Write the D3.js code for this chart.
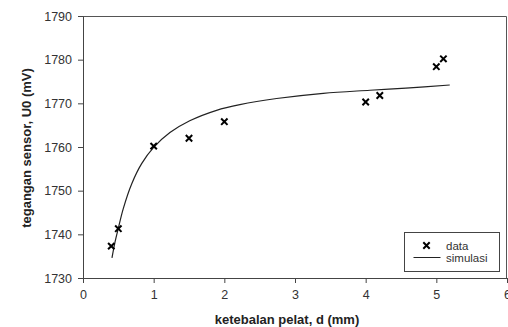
<!DOCTYPE html>
<html>
<head>
<meta charset="utf-8">
<script src="https://cdn.jsdelivr.net/npm/d3@7"></script>
<style>
  body { margin: 0; background: #fff; }
  svg text { font-family: "Liberation Sans", Arial, sans-serif; }
  .axis path, .axis line { stroke: #444; }
  .axis text { fill: #333; font-size: 12.5px; }
</style>
</head>
<body>
<div id="chart"></div>
<script>
// measured points
var dataD = [0.4, 0.5, 1.0, 1.5, 2.0, 4.0, 4.2, 5.0, 5.1];
var dataU = [1737.3, 1741.3, 1760.2, 1762.0, 1765.8, 1770.3, 1771.8, 1778.4, 1780.2];

// simulation curve
var simD = [0.41, 0.45, 0.5, 0.57, 0.69, 0.83, 1.0, 1.23, 1.51, 1.89, 2.22, 2.74, 3.4, 4.06, 4.57, 5.19];
var simU = [1734.6, 1738.0, 1741.4, 1745.9, 1751.6, 1756.2, 1759.9, 1763.3, 1766.0, 1768.4, 1769.7, 1771.1, 1772.3, 1773.0, 1773.5, 1774.2];

var xTicks = [0, 1, 2, 3, 4, 5, 6];
var yTicks = [1730, 1740, 1750, 1760, 1770, 1780, 1790];
var legendLabels = ["data", "simulasi"];

var W = 508, H = 327;
var margin = {top: 16, right: 1, bottom: 49, left: 83},
    width = W - margin.left - margin.right,
    height = H - margin.top - margin.bottom;

var svg = d3.select("#chart").append("svg")
    .attr("width", W)
    .attr("height", H);

var g = svg.append("g")
    .attr("transform", "translate(" + margin.left + "," + margin.top + ")");

var x = d3.scaleLinear().domain([0, 6]).range([0, width]);
var y = d3.scaleLinear().domain([1730, 1790]).range([height, 0]);

// frame (top + right)
g.append("path")
    .attr("d", "M0,0.5H" + (width - 0.5) + "V" + height)
    .attr("fill", "none")
    .attr("stroke", "#555");

g.append("g")
    .attr("class", "axis")
    .attr("transform", "translate(0," + height + ")")
    .call(d3.axisBottom(x).tickValues(xTicks).tickFormat(d3.format("d"))
        .tickSize(5).tickPadding(7).tickSizeOuter(0));

g.append("g")
    .attr("class", "axis")
    .call(d3.axisLeft(y).tickValues(yTicks).tickFormat(d3.format("d"))
        .tickSize(5).tickPadding(6).tickSizeOuter(0));

// simulation line
var line = d3.line()
    .x(function (d, i) { return x(simD[i]); })
    .y(function (d, i) { return y(simU[i]); })
    .curve(d3.curveCatmullRom.alpha(0.5));

g.append("path")
    .datum(simU)
    .attr("d", line)
    .attr("fill", "none")
    .attr("stroke", "#222")
    .attr("stroke-width", 1.2);

// data crosses
var s = 3.2;
function cross(px, py) {
    return "M" + (px - s) + "," + (py - s) + "L" + (px + s) + "," + (py + s) +
           "M" + (px - s) + "," + (py + s) + "L" + (px + s) + "," + (py - s);
}

g.selectAll(".pt")
    .data(dataU)
    .enter().append("path")
    .attr("class", "pt")
    .attr("d", function (d, i) { return cross(x(dataD[i]), y(d)); })
    .attr("stroke", "#000")
    .attr("stroke-width", 2);

// axis titles
svg.append("text")
    .attr("x", margin.left + x(3) - 8)
    .attr("y", 324)
    .attr("text-anchor", "middle")
    .attr("font-size", "13px")
    .attr("font-weight", "bold")
    .attr("fill", "#222")
    .text("ketebalan pelat, d (mm)");

svg.append("text")
    .attr("transform", "translate(31," + (margin.top + height / 2 + 1) + ") rotate(-90)")
    .attr("text-anchor", "middle")
    .attr("font-size", "13px")
    .attr("font-weight", "bold")
    .attr("fill", "#222")
    .text("tegangan sensor, U0 (mV)");

// legend
var lg = svg.append("g").attr("transform", "translate(404.5,232.5)");
lg.append("rect")
    .attr("width", 95)
    .attr("height", 39)
    .attr("fill", "#fff")
    .attr("stroke", "#444");

lg.append("path")
    .attr("d", cross(22, 13))
    .attr("stroke", "#000")
    .attr("stroke-width", 2);

lg.append("line")
    .attr("x1", 9).attr("x2", 36)
    .attr("y1", 25).attr("y2", 25)
    .attr("stroke", "#222");

lg.selectAll(".lt")
    .data(legendLabels)
    .enter().append("text")
    .attr("x", 41.5)
    .attr("y", function (d, i) { return 13 + i * 12.5; })
    .attr("dy", "0.35em")
    .attr("font-size", "11.5px")
    .attr("fill", "#333")
    .text(function (d) { return d; });
</script>
</body>
</html>
